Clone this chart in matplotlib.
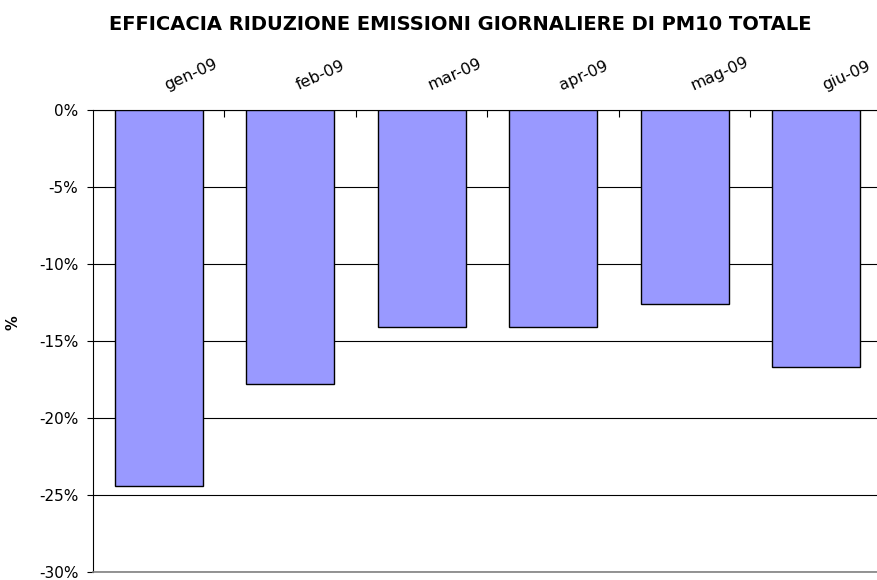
import numpy as np
import matplotlib
matplotlib.use("Agg")
import matplotlib.pyplot as plt
from matplotlib.ticker import FuncFormatter, FixedLocator

# data
months = ["gen-09", "feb-09", "mar-09", "apr-09", "mag-09", "giu-09"]
reduction = [-24.4, -17.8, -14.1, -14.1, -12.6, -16.7]  # %
y_ticks = [0, -5, -10, -15, -20, -25, -30]

plt.rcParams['font.family'] = ['DejaVu Sans']

fig = plt.figure(figsize=(8.77, 5.80), dpi=100)
ax = fig.add_axes([0.106, 0.0138, 0.8997, 0.797])

x = np.arange(len(months))
ax.bar(x, reduction, width=0.67, color="#9999FF", edgecolor="black",
       linewidth=1.0, zorder=3)

ax.set_xlim(-0.5, len(months) - 0.5)
ax.set_ylim(-30, 0)

# y axis
ax.set_yticks(y_ticks)
ax.yaxis.set_major_formatter(FuncFormatter(lambda v, p: f"{v:.0f}%"))
ax.tick_params(axis="y", direction="out", length=4.5, width=0.8,
               labelsize=11, pad=6)
ax.grid(axis="y", color="black", linewidth=0.8, zorder=0)
ax.set_ylabel("%", fontsize=10.5, fontweight="bold")
ax.yaxis.set_label_coords(-0.092, 0.54)

# x axis on top, ticks between categories
ax.xaxis.set_ticks_position("top")
ax.set_xticks([])
ax.xaxis.set_minor_locator(FixedLocator(np.arange(0.5, len(months) - 0.5, 1)))
ax.tick_params(axis="x", which="minor", direction="in", length=5, width=0.8,
               top=True, bottom=False)
ax.tick_params(axis="x", which="major", top=False, bottom=False)

for i, m in enumerate(months):
    ax.annotate(m, xy=(i, 0), xycoords=("data", "data"),
                xytext=(7, 12), textcoords="offset points",
                rotation=24, rotation_mode="anchor",
                ha="left", va="bottom", fontsize=11.5, annotation_clip=False)

ax.spines["right"].set_visible(False)
ax.spines["bottom"].set_color("#808080")
ax.spines["left"].set_linewidth(0.8)
ax.spines["top"].set_linewidth(0.8)
ax.spines["bottom"].set_linewidth(1.2)

fig.text(0.525, 0.958, "EFFICACIA RIDUZIONE EMISSIONI GIORNALIERE DI PM10 TOTALE",
         ha="center", va="center", fontsize=14, fontweight="bold")

fig.savefig("out.png", dpi=100)
